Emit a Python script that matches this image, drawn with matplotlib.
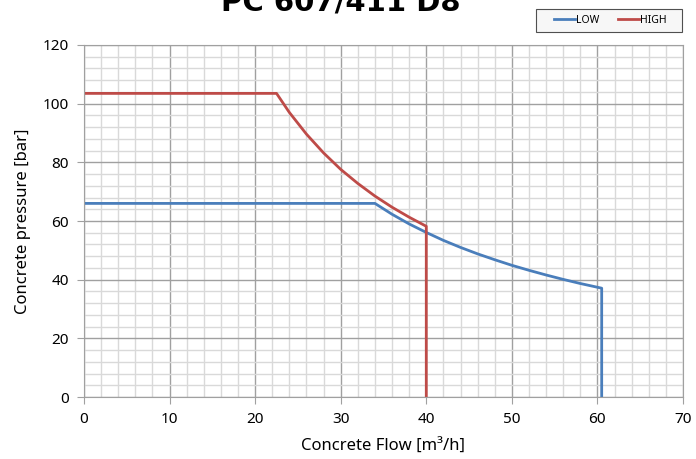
import matplotlib.pyplot as plt
from matplotlib.patches import Rectangle
from matplotlib.ticker import MultipleLocator

# values
low_flow = [0, 34, 36, 38, 40, 42, 44, 46, 48, 50, 52, 54, 56, 58, 60.5, 60.5]
low_pressure = [66, 66, 62.3, 59, 56.1, 53.4, 51, 48.8, 46.8, 44.9, 43.2, 41.6, 40.1, 38.7, 37.1, 0]

high_flow = [0, 22.5, 24, 26, 28, 30, 32, 34, 36, 38, 40, 40]
high_pressure = [103.5, 103.5, 97, 89.6, 83.2, 77.6, 72.8, 68.5, 64.7, 61.3, 58.2, 0]

series_names = ['LOW', 'HIGH']
series_colors = ['#4a7ebb', '#be4b48']

plt.rcParams['font.family'] = ['Noto Sans', 'DejaVu Sans']

fig = plt.figure(figsize=(6.96, 4.59), dpi=100)
ax = fig.add_axes([0.1207, 0.135, 0.8606, 0.767])

ax.plot(low_flow, low_pressure, color=series_colors[0], lw=2, label=series_names[0])
ax.plot(high_flow, high_pressure, color=series_colors[1], lw=2, label=series_names[1])

ax.set_xlim(0, 70)
ax.set_ylim(0, 120)
ax.xaxis.set_major_locator(MultipleLocator(10))
ax.xaxis.set_minor_locator(MultipleLocator(2))
ax.yaxis.set_major_locator(MultipleLocator(20))
ax.yaxis.set_minor_locator(MultipleLocator(4))

ax.grid(True, which='major', color='#a0a0a0', lw=1)
ax.grid(True, which='minor', color='#d9d9d9', lw=1)
ax.set_axisbelow(True)

for s in ax.spines.values():
    s.set_color('#a0a0a0')
ax.tick_params(which='major', length=5, color='#a0a0a0', labelsize=11, pad=6)
ax.tick_params(which='minor', length=0)

ax.set_xlabel('Concrete Flow [m\u00b3/h]', fontsize=12, labelpad=8)
ax.set_ylabel('Concrete pressure [bar]', fontsize=12, labelpad=8)

# title sits partly above the top edge, as in the source image
fig.text(0.49, 0.977, 'PC 607/411 D8', fontsize=21, fontweight='bold',
         ha='center', va='baseline', family='DejaVu Sans')

# legend box drawn by hand (wider side padding than matplotlib's frame)
W, H = 696, 459
fig.patches.append(Rectangle((536 / W, 1 - 32 / H), 146 / W, 23 / H,
                             transform=fig.transFigure, facecolor='#f7f7f7',
                             edgecolor='#505050', lw=0.8))
leg = fig.legend(loc='center', bbox_to_anchor=(610 / W, 1 - 20.5 / H),
                 ncol=2, fontsize=7.5, handlelength=2.0, frameon=False,
                 columnspacing=1.8, handletextpad=0.1, borderpad=0)

fig.savefig('out.png', dpi=100)
